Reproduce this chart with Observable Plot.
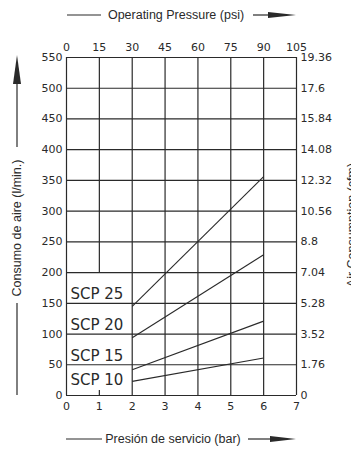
<!DOCTYPE html>
<html>
<head>
<meta charset="utf-8">
<script src="https://cdn.jsdelivr.net/npm/d3@7"></script>
<script src="https://cdn.jsdelivr.net/npm/@observablehq/plot@0.6"></script>
<style>
  html, body { margin: 0; padding: 0; background: #fff; overflow: hidden; }
  #chart { width: 351px; height: 449px; overflow: hidden; }
</style>
</head>
<body>
<div id="chart"></div>
<script>
// ---- data ----
const barTicks = [0, 1, 2, 3, 4, 5, 6, 7];
const psiTicks = [0, 15, 30, 45, 60, 75, 90, 105];
const lminTicks = [0, 50, 100, 150, 200, 250, 300, 350, 400, 450, 500, 550];
const cfmTicks = ["0", "1.76", "3.52", "5.28", "7.04", "8.8", "10.56", "12.32", "14.08", "15.84", "17.6", "19.36"];
const models = ["SCP 10", "SCP 15", "SCP 20", "SCP 25"];
const pressureStart = [2, 2, 2, 2];
const pressureEnd = [6, 6, 6, 6];
const flowStart = [23, 42, 94, 145];
const flowEnd = [61, 121, 229, 356];
const labelY = [10, 50, 100, 150];

const segs = models.map((m, i) => ({m, x1: pressureStart[i], y1: flowStart[i], x2: pressureEnd[i], y2: flowEnd[i], ly: labelY[i]}));

const ink = "#2a2a2a";
const tickFont = "DejaVu Sans, sans-serif";
const W = 351, H = 449;
const mL = 66, mR = 55, mT = 57, mB = 54;

const fullX = barTicks.filter(d => d !== 1);

const svg = Plot.plot({
  width: W,
  height: H,
  marginLeft: mL,
  marginRight: mR,
  marginTop: mT,
  marginBottom: mB,
  style: {fontFamily: tickFont, fontSize: "11px", color: ink, background: "#fff"},
  x: {domain: [0, 7]},
  y: {domain: [0, 550]},
  marks: [
    Plot.ruleY(lminTicks, {y: d => d, x1: 0, x2: 7, stroke: ink, strokeWidth: 1.2, strokeOpacity: 1}),
    Plot.ruleX(fullX, {x: d => d, y1: 0, y2: 550, stroke: ink, strokeWidth: 1.2}),
    Plot.ruleX([1], {x: d => d, y1: 200, y2: 550, stroke: ink, strokeWidth: 1.2}),
    Plot.ruleX([1], {x: d => d, y1: 0, y2: 8, stroke: ink, strokeWidth: 1.2}),
    Plot.link(segs, {x1: "x1", y1: "y1", x2: "x2", y2: "y2", stroke: ink, strokeWidth: 1.1}),
    Plot.text(segs, {x: 0, y: "ly", text: "m", textAnchor: "start", lineAnchor: "bottom", dx: 4, dy: -4,
      fontSize: 15, fill: ink, fontFamily: tickFont, letterSpacing: "1.5px"}),
    Plot.axisX(barTicks, {anchor: "bottom", tickSize: 0, tickPadding: 7, label: null, fontSize: 11}),
    Plot.axisX(barTicks, {anchor: "top", tickSize: 0, tickPadding: 7, label: null, fontSize: 11,
      tickFormat: (d) => psiTicks[barTicks.indexOf(d)]}),
    Plot.axisY(lminTicks, {anchor: "left", tickSize: 0, tickPadding: 4, label: null, fontSize: 11}),
    Plot.axisY(lminTicks, {anchor: "right", tickSize: 0, tickPadding: 4, label: null, fontSize: 11,
      tickFormat: d => cfmTicks[lminTicks.indexOf(d)]})
  ]
});

document.getElementById("chart").appendChild(svg);

// ---- decorations: axis titles with arrows ----
const s = d3.select(svg);
const titleFont = "Liberation Sans, Arial, sans-serif";
const g = s.append("g").attr("fill", ink).attr("stroke", ink);

// top title
g.append("line").attr("x1", 67).attr("x2", 101).attr("y1", 15).attr("y2", 15).attr("stroke-width", 1.2);
g.append("text").attr("x", 176).attr("y", 15).attr("dy", "0.35em").attr("text-anchor", "middle")
  .attr("stroke", "none").attr("font-family", titleFont).attr("font-size", 12.5).text("Operating Pressure (psi)");
g.append("line").attr("x1", 253).attr("x2", 272).attr("y1", 15).attr("y2", 15).attr("stroke-width", 1.2);
g.append("path").attr("d", "M268,12 L296,15 L268,18 Z").attr("stroke", "none");

// bottom title
g.append("line").attr("x1", 66).attr("x2", 102).attr("y1", 439).attr("y2", 439).attr("stroke-width", 1.2);
g.append("text").attr("x", 173).attr("y", 439).attr("dy", "0.35em").attr("text-anchor", "middle")
  .attr("stroke", "none").attr("font-family", titleFont).attr("font-size", 12.5).text("Presión de servicio (bar)");
g.append("line").attr("x1", 248).attr("x2", 272).attr("y1", 439).attr("y2", 439).attr("stroke-width", 1.2);
g.append("path").attr("d", "M270,436 L296,439 L270,442 Z").attr("stroke", "none");

// left title
g.append("line").attr("x1", 17).attr("x2", 17).attr("y1", 303).attr("y2", 395).attr("stroke-width", 1.2);
g.append("text").attr("transform", "translate(17,228) rotate(-90)").attr("dy", "0.35em").attr("text-anchor", "middle")
  .attr("stroke", "none").attr("font-family", titleFont).attr("font-size", 12.5).text("Consumo de aire (l/min.)");
g.append("line").attr("x1", 17).attr("x2", 17).attr("y1", 147).attr("y2", 80).attr("stroke-width", 1.2);
g.append("path").attr("d", "M13,84 L17,55 L21,84 Z").attr("stroke", "none");

// right title (largely cut off at the page edge, as in the reference)
g.append("text").attr("transform", "translate(352,225) rotate(-90)").attr("dy", "0.35em").attr("text-anchor", "middle")
  .attr("stroke", "none").attr("font-family", titleFont).attr("font-size", 12.5).text("Air Consumption (cfm)");
</script>
</body>
</html>
